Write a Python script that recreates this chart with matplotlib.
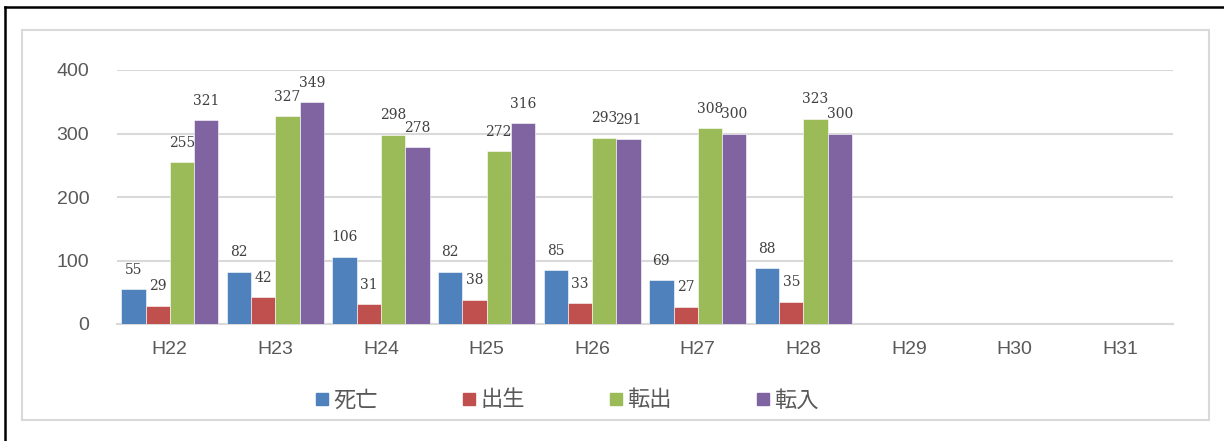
import numpy as np
import matplotlib.pyplot as plt
from matplotlib.lines import Line2D
from matplotlib.patches import Rectangle

years = ["H22", "H23", "H24", "H25", "H26", "H27", "H28", "H29", "H30", "H31"]
deaths = [55, 82, 106, 82, 85, 69, 88, None, None, None]
births = [29, 42, 31, 38, 33, 27, 35, None, None, None]
moved_out = [255, 327, 298, 272, 293, 308, 323, None, None, None]
moved_in = [321, 349, 278, 316, 291, 300, 300, None, None, None]

series = [("死亡", deaths, "#4F81BD"),
          ("出生", births, "#C0504D"),
          ("転出", moved_out, "#9BBB59"),
          ("転入", moved_in, "#8064A2")]

W, H = 1224, 441
fig = plt.figure(figsize=(W / 100, H / 100), dpi=100)
ax = fig.add_axes([117 / W, 1 - 324 / H, 1056 / W, 254 / H])

x = np.arange(len(years))
bw = 0.23
grid_col = "#D9D9D9"
text_col = "#595959"

for i, (name, vals, col) in enumerate(series):
    pos = x + (i - 1.5) * bw
    for p, v in zip(pos, vals):
        if v is None:
            continue
        ax.bar(p, v, width=bw, color=col, edgecolor="white", linewidth=0.4, zorder=3)
        ax.annotate(str(v), (p, v), xytext=(0, 9), textcoords="offset points",
                    ha="center", va="bottom", fontsize=10,
                    family="DejaVu Serif", color="#404040")

ax.set_xlim(-0.5, len(years) - 0.5)
ax.set_ylim(0, 400)
ax.set_yticks([0, 100, 200, 300, 400])
ax.set_xticks(x)
ax.set_xticklabels(years)
ax.yaxis.grid(True, color=grid_col, linewidth=1.5, zorder=0)
ax.set_axisbelow(True)
for s in ["top", "right", "left"]:
    ax.spines[s].set_visible(False)
ax.spines["bottom"].set_color(grid_col)
ax.spines["bottom"].set_linewidth(1.5)
ax.tick_params(axis="both", length=0, labelsize=14, labelcolor=text_col,
               labelfontfamily="Liberation Sans")
ax.tick_params(axis="y", pad=20)
ax.tick_params(axis="x", pad=12)

handles = [Line2D([], [], marker="s", linestyle="none", markersize=8,
                  markerfacecolor=c, markeredgecolor=c) for _, _, c in series]
leg = fig.legend(handles, [n for n, _, _ in series], ncol=4, loc="center",
                 bbox_to_anchor=(567 / W, 1 - 400 / H), frameon=False,
                 prop={"family": "Noto Sans CJK JP", "size": 16},
                 handlelength=0.6, handletextpad=0.2, columnspacing=3.8)
for t in leg.get_texts():
    t.set_color(text_col)

# chart area frame and outer border
fig.add_artist(Rectangle((22 / W, 1 - 420 / H), (1209 - 22) / W, 390 / H,
                         transform=fig.transFigure, fill=False,
                         edgecolor=grid_col, linewidth=1.5))
fig.add_artist(Line2D([5 / W, 5 / W], [0, 1 - 7 / H], transform=fig.transFigure,
                      color="black", linewidth=1.8))
fig.add_artist(Line2D([5 / W, 1], [1 - 7 / H, 1 - 7 / H], transform=fig.transFigure,
                      color="black", linewidth=1.8))

fig.savefig("out.png", dpi=100)
